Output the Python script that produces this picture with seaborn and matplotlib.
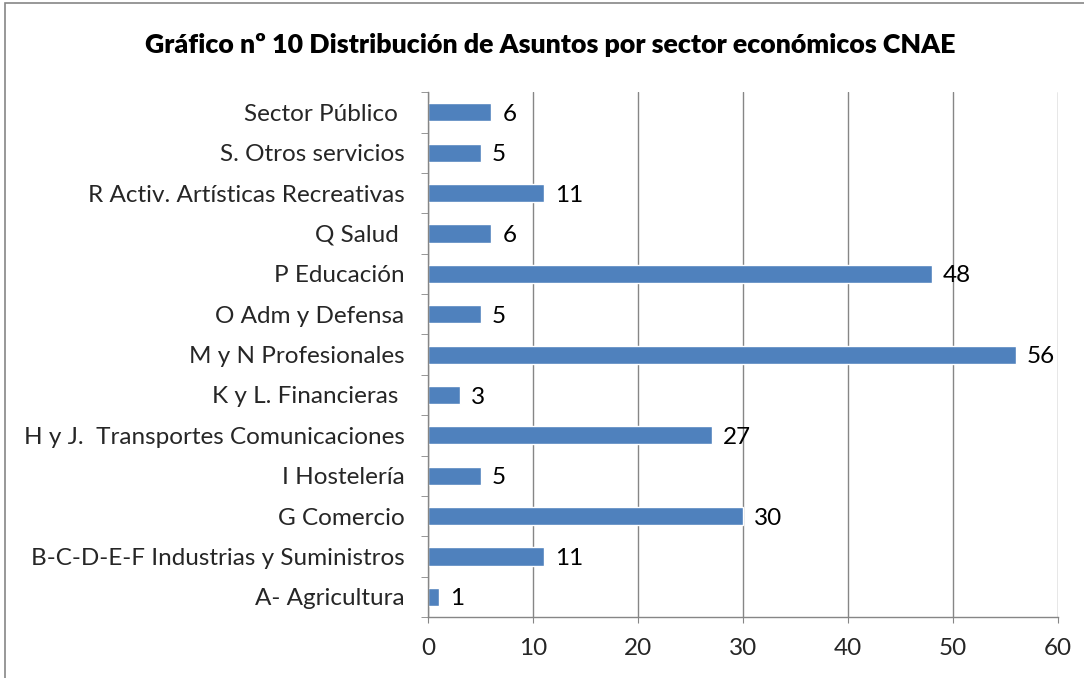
import numpy as np
import pandas as pd
import matplotlib
matplotlib.use("Agg")
import matplotlib.pyplot as plt
import seaborn as sns
from matplotlib.patches import Rectangle

sectores = [
    "Sector Público ",
    "S. Otros servicios",
    "R Activ. Artísticas Recreativas",
    "Q Salud ",
    "P Educación",
    "O Adm y Defensa",
    "M y N Profesionales",
    "K y L. Financieras ",
    "H y J.  Transportes Comunicaciones",
    "I Hostelería",
    "G Comercio",
    "B-C-D-E-F Industrias y Suministros",
    "A- Agricultura",
]
asuntos = [6, 5, 11, 6, 48, 5, 56, 3, 27, 5, 30, 11, 1]
x_ticks = [0, 10, 20, 30, 40, 50, 60]

titulo = "Gráfico nº 10 Distribución de Asuntos por sector económicos CNAE"

sns.set_style("white")
plt.rcParams["font.family"] = ["Lato", "DejaVu Sans"]

df = pd.DataFrame({"sector": sectores, "asuntos": asuntos})

fig = plt.figure(figsize=(10.84, 6.78), dpi=100)
ax = fig.add_axes([0.395, 0.09, 0.581, 0.774])

sns.barplot(data=df, x="asuntos", y="sector", orient="h", color="#4F81BD",
            width=0.45, saturation=1, ax=ax)

fs = 17.5
for i, v in enumerate(asuntos):
    ax.annotate(str(v), (v, i), xytext=(8, -1.5), textcoords="offset points",
                va="center", ha="left", fontsize=fs, color="black")

ax.set_xlim(0, 60)
ax.set_ylim(len(sectores) - 0.5, -0.5)
ax.set_xticks(x_ticks)
ax.set_xticklabels([str(t) for t in x_ticks], fontsize=fs)
ax.tick_params(axis="y", labelsize=fs, length=0, pad=17)
ax.tick_params(axis="x", bottom=True, length=4, color="#868686", pad=11,
               direction="out")
ax.set_yticks(np.arange(-0.5, len(sectores), 1), minor=True)
ax.tick_params(axis="y", which="minor", left=True, length=5, color="#868686",
               direction="out")
ax.set_xlabel("")
ax.set_ylabel("")
ax.grid(axis="x", color="#868686", linewidth=1)
ax.set_axisbelow(True)
for s in ["top", "right"]:
    ax.spines[s].set_visible(False)
for s in ["left", "bottom"]:
    ax.spines[s].set_color("#868686")
    ax.spines[s].set_linewidth(1)

fig.text(0.508, 0.934, titulo, ha="center", va="center", fontsize=19.3,
         fontweight="heavy", color="black")

fig.patches.append(Rectangle((0.005, -0.05), 1.1, 1.045, transform=fig.transFigure,
                             fill=False, edgecolor="#868686", linewidth=1.2))

fig.savefig("out.png", dpi=100)
